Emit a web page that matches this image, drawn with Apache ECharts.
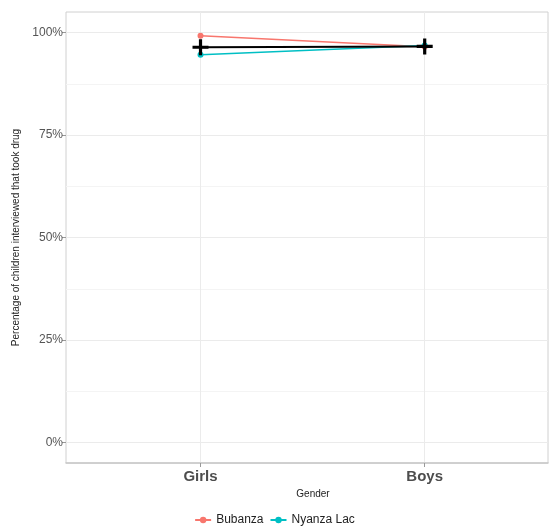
<!DOCTYPE html>
<html>
<head>
<meta charset="utf-8">
<script src="https://cdn.jsdelivr.net/npm/echarts@6/dist/echarts.min.js"></script>
<style>html,body{margin:0;padding:0;background:#fff}#c{width:549px;height:529px}</style>
</head>
<body>
<div id="c"></div>
<script>
const categories = ['Girls', 'Boys'];
const bubanza = [99.2, 96.5];
const nyanzaLac = [94.6, 96.8];
const overall = [96.4, 96.6];
const yTicks = [0, 25, 50, 75, 100];
const yMinor = [12.5, 37.5, 62.5, 87.5];

const toXY = arr => arr.map((v, i) => [i + 1, v]);
const font = 'Liberation Sans, Arial, sans-serif';
const plus = 'path://M-1.6,-8 L1.6,-8 L1.6,-1.6 L8,-1.6 L8,1.6 L1.6,1.6 L1.6,8 L-1.6,8 L-1.6,1.6 L-8,1.6 L-8,-1.6 L-1.6,-1.6 Z';

const chart = echarts.init(document.getElementById('c'));
chart.setOption({
  animation: false,
  backgroundColor: '#fff',
  grid: { left: 66, right: 1, top: 12, bottom: 66, show: true, borderColor: '#d0d0d0', borderWidth: 1, backgroundColor: 'transparent' },
  xAxis: {
    type: 'value', min: 0.4, max: 2.55,
    name: 'Gender', nameLocation: 'middle', nameGap: 26,
    nameTextStyle: { fontFamily: font, fontSize: 10, color: '#222', padding: [0, 0, 0, 12] },
    axisLine: { show: true, onZero: false, lineStyle: { color: '#c8c8c8', width: 1.5 } },
    axisTick: { show: true, customValues: [1, 2], length: 4, lineStyle: { color: '#999' } },
    axisLabel: { customValues: [1, 2], formatter: v => categories[Math.round(v) - 1] || '', fontFamily: font, fontSize: 15, fontWeight: 'bold', color: '#4d4d4d', margin: 6 },
    splitLine: { show: true, lineStyle: { color: '#ebebeb', width: 1 } }
  },
  yAxis: [{
    type: 'value', min: -5, max: 105,
    name: 'Percentage of children interviewed that took drug', nameLocation: 'middle', nameGap: 40,
    nameTextStyle: { fontFamily: font, fontSize: 10, color: '#222' },
    axisLine: { show: false },
    axisTick: { show: true, customValues: yTicks, length: 4, lineStyle: { color: '#999' } },
    axisLabel: { customValues: yTicks, formatter: v => v + '%', fontFamily: font, fontSize: 12, color: '#555', margin: 3 },
    splitLine: { show: true, lineStyle: { color: '#ebebeb', width: 1 } }
  }, {
    type: 'value', min: -5, max: 105, position: 'left',
    axisLine: { show: false },
    axisTick: { show: false, customValues: yMinor },
    axisLabel: { show: false, customValues: yMinor },
    splitLine: { show: true, lineStyle: { color: '#f4f4f4', width: 1 } }
  }],
  legend: {
    data: ['Bubanza', 'Nyanza Lac'], bottom: -2, left: 'center',
    itemWidth: 16, itemHeight: 8, itemGap: 6,
    textStyle: { fontFamily: font, fontSize: 12, color: '#222' }
  },
  series: [
    { name: 'Bubanza', type: 'line', data: toXY(bubanza), symbol: 'circle', symbolSize: 6,
      itemStyle: { color: '#F8766D' }, lineStyle: { color: '#F8766D', width: 1.5 } },
    { name: 'Nyanza Lac', type: 'line', data: toXY(nyanzaLac), symbol: 'circle', symbolSize: 6,
      itemStyle: { color: '#00BFC4' }, lineStyle: { color: '#00BFC4', width: 1.5 } },
    { name: 'Overall', type: 'line', data: toXY(overall), symbol: plus, symbolSize: 16,
      itemStyle: { color: '#000' }, lineStyle: { color: '#000', width: 2 }, z: 5 }
  ]
});
</script>
</body>
</html>
